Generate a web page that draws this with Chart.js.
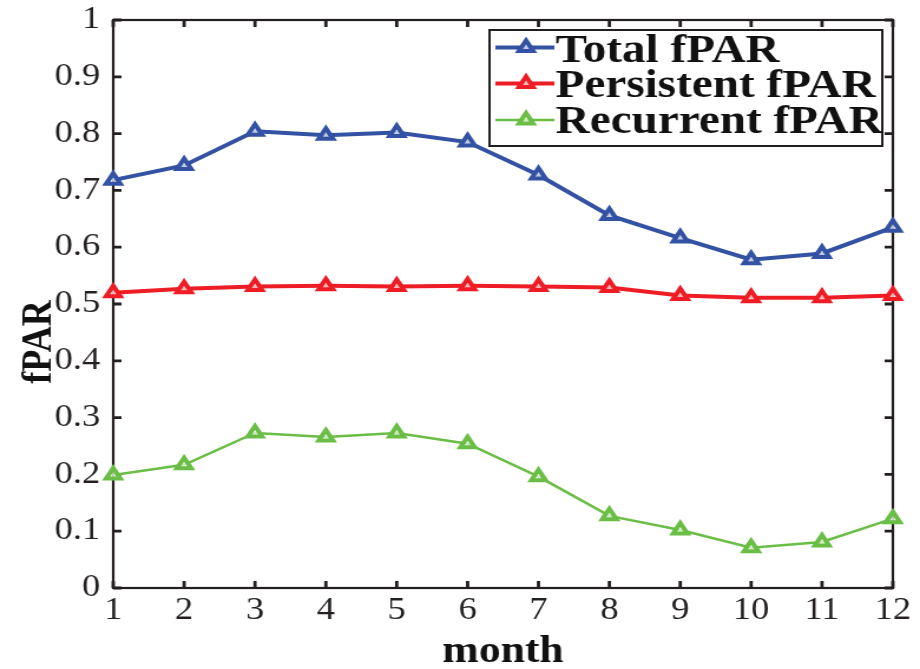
<!DOCTYPE html>
<html><head><meta charset="utf-8">
<script src="https://cdn.jsdelivr.net/npm/chart.js@4"></script>
<style>html,body{margin:0;padding:0;background:#fff;}canvas{display:block;}</style>
</head><body>
<canvas id="c" width="780" height="669" style="width:920px;height:669px"></canvas>
<script>
const months = ['1','2','3','4','5','6','7','8','9','10','11','12'];
const totalFPAR = [0.718,0.744,0.804,0.797,0.802,0.785,0.727,0.656,0.616,0.578,0.589,0.635];
const persistentFPAR = [0.520,0.527,0.531,0.532,0.531,0.532,0.531,0.529,0.515,0.511,0.511,0.515];
const recurrentFPAR = [0.199,0.217,0.273,0.266,0.273,0.254,0.196,0.127,0.102,0.071,0.081,0.122];
const seriesNames = ['Total fPAR','Persistent fPAR','Recurrent fPAR'];
const seriesColors = ['#3352a3','#ee1d25','#6abd45'];
const seriesWidths = [4,4,2.5];
const yTicks = [0,0.1,0.2,0.3,0.4,0.5,0.6,0.7,0.8,0.9,1];
const xTitle = 'month';
const yTitle = 'fPAR';

const INK = '#231f20';
const serif = "'Liberation Serif','Times New Roman',serif";

function ds(i, data){
  return {label:seriesNames[i], data:data, borderColor:seriesColors[i], backgroundColor:seriesColors[i],
    borderWidth:seriesWidths[i], pointStyle:'triangle', pointRadius:7, pointBorderWidth:4,
    pointBackgroundColor:'rgba(255,255,255,0.7)', pointBorderColor:seriesColors[i], tension:0, clip:false};
}

const boxPlugin = {
  id:'boxTicks',
  beforeDatasetsDraw(chart){
    const {ctx, chartArea:a, scales} = chart;
    ctx.save();
    ctx.strokeStyle = INK; ctx.lineWidth = 2.2;
    ctx.strokeRect(a.left, a.top, a.right-a.left, a.bottom-a.top);
    ctx.lineWidth = 2.8;
    const tl = 7;
    ctx.beginPath();
    yTicks.forEach(v=>{
      const y = scales.y.getPixelForValue(v);
      ctx.moveTo(a.left, y); ctx.lineTo(a.left+tl, y);
      ctx.moveTo(a.right, y); ctx.lineTo(a.right-tl, y);
    });
    months.forEach((m,i)=>{
      const x = scales.x.getPixelForValue(i);
      ctx.moveTo(x, a.bottom); ctx.lineTo(x, a.bottom-tl);
      ctx.moveTo(x, a.top); ctx.lineTo(x, a.top+tl);
    });
    ctx.stroke();
    ctx.save();
    ctx.translate(34, 342);
    ctx.rotate(-Math.PI/2);
    ctx.fillStyle = '#111';
    ctx.font = "bold 36px " + serif;
    ctx.textAlign = 'center'; ctx.textBaseline = 'middle';
    ctx.fillText(yTitle, 0, 0);
    ctx.restore();
    ctx.restore();
  },
  afterDraw(chart){
    const ctx = chart.ctx;
    ctx.save();
    const L = 415, T = 30, R = 748, B = 146;
    ctx.fillStyle = '#fff';
    ctx.fillRect(L, T, R-L, B-T);
    ctx.strokeStyle = INK; ctx.lineWidth = 2;
    ctx.strokeRect(L, T, R-L, B-T);
    const rows = [47.5, 83.5, 120];
    const bases = [61.5, 96.5, 132.5];
    chart.data.datasets.forEach((d,i)=>{
      const y = rows[i];
      ctx.strokeStyle = d.borderColor; ctx.lineWidth = d.borderWidth;
      ctx.beginPath(); ctx.moveTo(420, y); ctx.lineTo(470, y); ctx.stroke();
      const r = 7, cx = 446;
      ctx.beginPath();
      ctx.moveTo(cx, y - r);
      ctx.lineTo(cx + r*Math.cos(Math.PI/6), y + r*0.5);
      ctx.lineTo(cx - r*Math.cos(Math.PI/6), y + r*0.5);
      ctx.closePath();
      ctx.fillStyle = 'rgba(255,255,255,0.7)'; ctx.fill();
      ctx.lineWidth = 4; ctx.strokeStyle = d.borderColor; ctx.stroke();
      ctx.fillStyle = '#111';
      ctx.font = "bold 40px " + serif;
      ctx.textBaseline = 'alphabetic'; ctx.textAlign = 'left';
      ctx.fillText(d.label, 471, bases[i]);
    });
    ctx.restore();
  }
};

new Chart(document.getElementById('c'), {
  type:'line',
  data:{labels:months, datasets:[ds(0,totalFPAR), ds(1,persistentFPAR), ds(2,recurrentFPAR)]},
  options:{
    responsive:false, animation:false, devicePixelRatio:1,
    layout:{padding:{top:20, right:23, left:0, bottom:0}},
    plugins:{legend:{display:false}, tooltip:{enabled:false}},
    scales:{
      x:{type:'category', offset:false,
        grid:{display:false, drawTicks:false}, border:{display:false},
        ticks:{color:INK, font:{family:serif, size:31}, padding:4, autoSkip:false, maxRotation:0},
        title:{display:true, text:xTitle, color:'#111', font:{family:serif, size:37, weight:'bold', lineHeight:0.9}, padding:{top:0,bottom:0}},
        afterFit(s){ s.height = 669 - 588; s.paddingLeft = 0; s.paddingRight = 0; }
      },
      y:{min:0, max:1,
        grid:{display:false, drawTicks:false}, border:{display:false},
        ticks:{color:INK, font:{family:serif, size:31}, padding:11, stepSize:0.1,
          callback:(v)=> String(+(+v).toFixed(1))},
        afterBuildTicks(s){ s.ticks = yTicks.map(v=>({value:v})); },
        title:{display:false},
        afterFit(s){ s.width = 96; s.paddingTop = 0; s.paddingBottom = 0; }
      }
    }
  },
  plugins:[boxPlugin]
});
</script>
</body></html>
